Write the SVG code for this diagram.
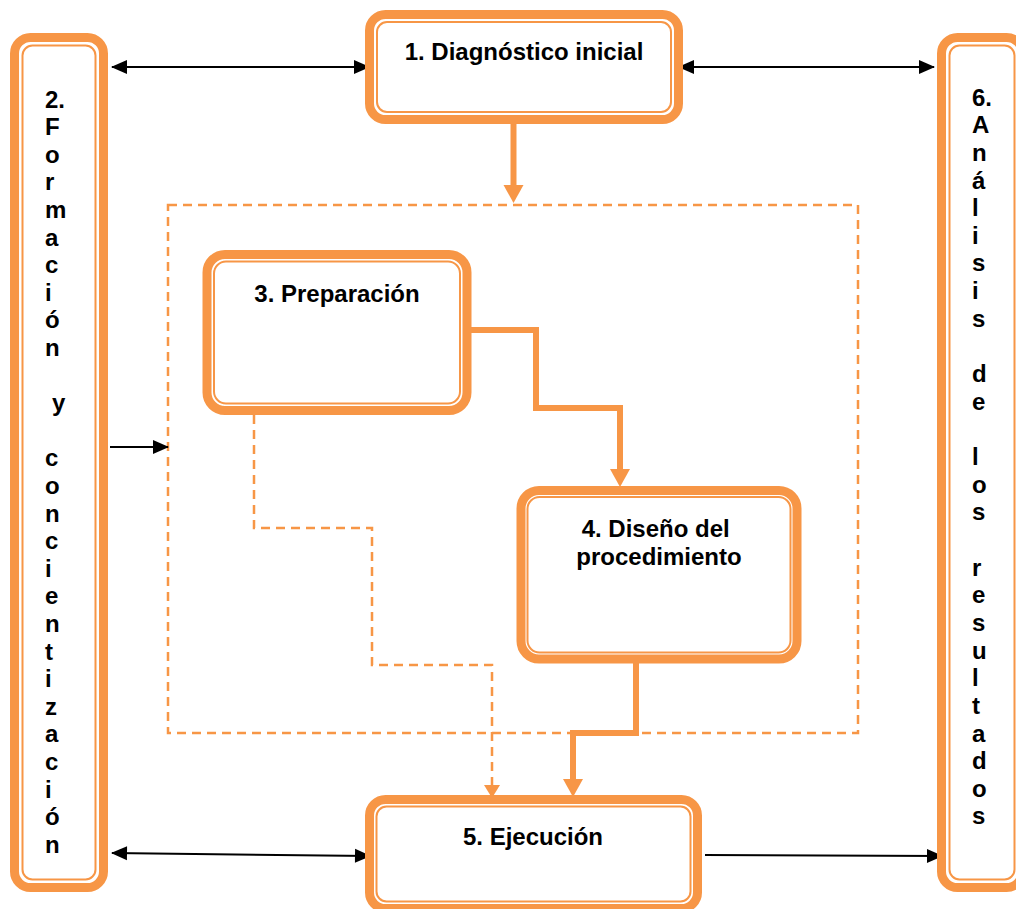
<svg xmlns="http://www.w3.org/2000/svg" width="1016" height="909" viewBox="0 0 1016 909">
  <style>
    .outer { fill: #ffffff; stroke: #F79646; stroke-width: 9; }
    .inner { fill: none; stroke: #F79646; stroke-width: 2; }
    .lbl { font-family: "Liberation Sans", Arial, sans-serif; font-weight: bold; font-size: 24px; fill: #000000; }
    .mid { text-anchor: middle; }
    .blk { fill: none; stroke: #000000; stroke-width: 2; }
    .flow { fill: none; stroke: #F79646; stroke-width: 6; }
    .dash { fill: none; stroke: #F79646; stroke-width: 2.5; stroke-dasharray: 9 6; }
  </style>
  <defs>
    <marker id="blackHead" markerUnits="userSpaceOnUse" markerWidth="16" markerHeight="14" refX="15" refY="7" orient="auto-start-reverse" overflow="visible">
      <path d="M0,0 L16,7 L0,14 z" fill="#000000"/>
    </marker>
    <marker id="orangeHead" markerUnits="userSpaceOnUse" markerWidth="18" markerHeight="20" refX="2" refY="10" orient="auto" overflow="visible">
      <path d="M0,0 L18,10 L0,20 z" fill="#F79646"/>
    </marker>
    <marker id="orangeHeadSmall" markerUnits="userSpaceOnUse" markerWidth="13" markerHeight="16" refX="1" refY="8" orient="auto" overflow="visible">
      <path d="M0,0 L13,8 L0,16 z" fill="#F79646"/>
    </marker>
  </defs>

  <rect width="1016" height="909" fill="#ffffff"/>

  <!-- dashed frame around stages 3 and 4 -->
  <rect id="frame" x="168" y="205" width="690" height="528" class="dash"/>

  <g id="connectors">
    <!-- black side links -->
    <line x1="112" y1="67" x2="369" y2="67" class="blk" marker-start="url(#blackHead)" marker-end="url(#blackHead)"/>
    <line x1="679" y1="67" x2="934" y2="67" class="blk" marker-start="url(#blackHead)" marker-end="url(#blackHead)"/>
    <line x1="112" y1="853" x2="370" y2="856" class="blk" marker-start="url(#blackHead)" marker-end="url(#blackHead)"/>
    <line x1="705" y1="855" x2="942" y2="856" class="blk" marker-end="url(#blackHead)"/>
    <line x1="110" y1="447" x2="168" y2="447" class="blk" marker-end="url(#blackHead)"/>
    <!-- orange flow -->
    <path d="M513.5,124 V187" class="flow" marker-end="url(#orangeHead)"/>
    <path d="M471,330 H536 V408 H620 V471" class="flow" marker-end="url(#orangeHead)"/>
    <path d="M636,663 V733 H573 V781" class="flow" marker-end="url(#orangeHead)"/>
    <path d="M254,415 V528 H372 V665 H492 V786" class="dash" marker-end="url(#orangeHeadSmall)"/>
  </g>

  <g id="node1">
    <rect x="369.5" y="14.5" width="309" height="105" rx="16" class="outer"/>
    <rect x="377" y="22" width="294" height="90" rx="10" class="inner"/>
    <text x="524" y="60" class="lbl mid">1. Diagnóstico inicial</text>
  </g>

  <g id="node2">
    <rect x="14.5" y="37.5" width="89" height="850" rx="16" class="outer"/>
    <rect x="22.5" y="45.5" width="73" height="834" rx="10" class="inner"/>
    <text class="lbl">
      <tspan x="45" y="107.5">2.</tspan>
      <tspan x="45" y="135.1">F</tspan>
      <tspan x="45" y="162.7">o</tspan>
      <tspan x="45" y="190.3">r</tspan>
      <tspan x="45" y="217.9">m</tspan>
      <tspan x="45" y="245.5">a</tspan>
      <tspan x="45" y="273.1">c</tspan>
      <tspan x="45" y="300.7">i</tspan>
      <tspan x="45" y="328.3">ó</tspan>
      <tspan x="45" y="355.9">n</tspan>
      <tspan x="52" y="411.1">y</tspan>
      <tspan x="45" y="466.3">c</tspan>
      <tspan x="45" y="493.9">o</tspan>
      <tspan x="45" y="521.5">n</tspan>
      <tspan x="45" y="549.1">c</tspan>
      <tspan x="45" y="576.7">i</tspan>
      <tspan x="45" y="604.3">e</tspan>
      <tspan x="45" y="631.9">n</tspan>
      <tspan x="45" y="659.5">t</tspan>
      <tspan x="45" y="687.1">i</tspan>
      <tspan x="45" y="714.7">z</tspan>
      <tspan x="45" y="742.3">a</tspan>
      <tspan x="45" y="769.9">c</tspan>
      <tspan x="45" y="797.5">i</tspan>
      <tspan x="45" y="825.1">ó</tspan>
      <tspan x="45" y="852.7">n</tspan>
    </text>
  </g>

  <g id="node3">
    <rect x="207" y="254.5" width="260" height="156" rx="18" class="outer"/>
    <rect x="214" y="261.5" width="246" height="142" rx="12" class="inner"/>
    <text x="337" y="302" class="lbl mid">3. Preparación</text>
  </g>

  <g id="node4">
    <rect x="521" y="490.5" width="276" height="168.5" rx="18" class="outer"/>
    <rect x="527.5" y="497" width="263" height="155.5" rx="12" class="inner"/>
    <text class="lbl mid">
      <tspan x="659" y="537">4. Diseño del</tspan>
      <tspan x="659" y="565">procedimiento</tspan>
    </text>
  </g>

  <g id="node5">
    <rect x="369.5" y="799.5" width="328" height="109" rx="16" class="outer"/>
    <rect x="376.5" y="806.5" width="314" height="95" rx="10" class="inner"/>
    <text x="533" y="845" class="lbl mid">5. Ejecución</text>
  </g>

  <g id="node6">
    <rect x="941.5" y="37.5" width="81" height="850" rx="16" class="outer"/>
    <rect x="949.5" y="45.5" width="65" height="834" rx="10" class="inner"/>
    <text class="lbl">
      <tspan x="972" y="105.5">6.</tspan>
      <tspan x="972" y="133.2">A</tspan>
      <tspan x="972" y="160.8">n</tspan>
      <tspan x="972" y="188.5">á</tspan>
      <tspan x="972" y="216.1">l</tspan>
      <tspan x="972" y="243.8">i</tspan>
      <tspan x="972" y="271.4">s</tspan>
      <tspan x="972" y="299.1">i</tspan>
      <tspan x="972" y="326.7">s</tspan>
      <tspan x="972" y="382">d</tspan>
      <tspan x="972" y="409.7">e</tspan>
      <tspan x="972" y="465">l</tspan>
      <tspan x="972" y="492.6">o</tspan>
      <tspan x="972" y="520.3">s</tspan>
      <tspan x="972" y="575.6">r</tspan>
      <tspan x="972" y="603.2">e</tspan>
      <tspan x="972" y="630.9">s</tspan>
      <tspan x="972" y="658.5">u</tspan>
      <tspan x="972" y="686.2">l</tspan>
      <tspan x="972" y="713.8">t</tspan>
      <tspan x="972" y="741.5">a</tspan>
      <tspan x="972" y="769.1">d</tspan>
      <tspan x="972" y="796.8">o</tspan>
      <tspan x="972" y="824.4">s</tspan>
    </text>
  </g>
</svg>
